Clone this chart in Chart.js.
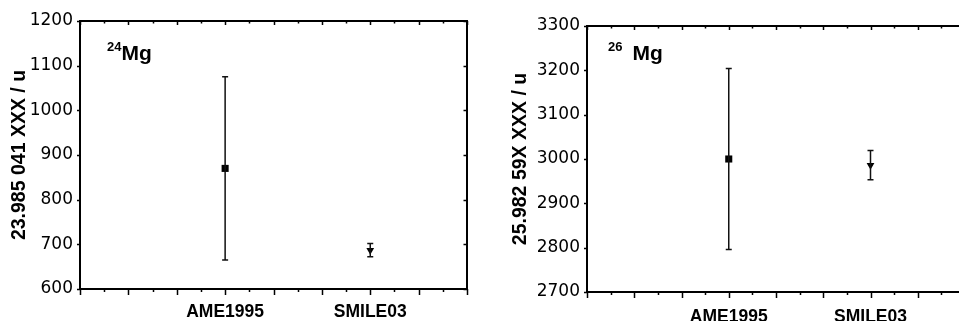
<!DOCTYPE html>
<html>
<head>
<meta charset="utf-8">
<script src="https://cdn.jsdelivr.net/npm/chart.js@4/dist/chart.umd.min.js"></script>
<style>
  html, body { margin: 0; padding: 0; background: #fff; }
  body { width: 959px; height: 321px; overflow: hidden; position: relative; }
  .panel { position: absolute; top: 0; height: 321px; }
  #left { left: 0; width: 480px; }
  #right { left: 480px; width: 500px; }
</style>
</head>
<body>
<div class="panel" id="left"><canvas id="graficoMg24"></canvas></div>
<div class="panel" id="right"><canvas id="graficoMg26"></canvas></div>
<script>
const categorias = ['AME1995', 'SMILE03'];
const posiciones = [3, 6];
const valoresMg24 = [870, 687];
const erroresMg24 = [205, 15];
const valoresMg26 = [3000, 2986];
const erroresMg26 = [204, 33];
const rangoMg24 = [600, 1200];
const rangoMg26 = [2700, 3300];
const rangoX = [0, 8];

const fuente = "'Liberation Sans', Arial, sans-serif";
const fuenteNumeros = "'DejaVu Sans', sans-serif";

// marco, marcas de los ejes, barras de error y etiqueta del isotopo
const pluginMarco = {
    id: 'marco',
    afterDatasetsDraw(chart) {
        const ctx = chart.ctx;
        const ys = chart.scales.y;
        const xs = chart.scales.x;
        const errores = chart.options.plugins.marco.errores;
        const ds = chart.data.datasets[0];
        ctx.save();
        ctx.strokeStyle = '#111';
        ctx.lineWidth = 1.5;
        ds.data.forEach((p, i) => {
            const px = xs.getPixelForValue(p.x);
            const yArriba = ys.getPixelForValue(p.y + errores[i]);
            const yAbajo = ys.getPixelForValue(p.y - errores[i]);
            ctx.beginPath();
            ctx.moveTo(px, yArriba);
            ctx.lineTo(px, yAbajo);
            ctx.moveTo(px - 3, yArriba);
            ctx.lineTo(px + 3, yArriba);
            ctx.moveTo(px - 3, yAbajo);
            ctx.lineTo(px + 3, yAbajo);
            ctx.stroke();
        });
        ctx.restore();
    },
    afterDraw(chart) {
        const ctx = chart.ctx;
        const { left, right, top, bottom } = chart.chartArea;
        const xs = chart.scales.x;
        const ys = chart.scales.y;
        const opts = chart.options.plugins.marco;
        ctx.save();
        ctx.strokeStyle = '#000';
        ctx.lineWidth = 2;
        ctx.strokeRect(left, top, right - left, bottom - top);
        ctx.lineWidth = 1.5;
        ctx.beginPath();
        xs.ticks.forEach(t => {
            const px = Math.round(xs.getPixelForValue(t.value)) + 0.5;
            const mayor = Number.isInteger(t.value);
            ctx.moveTo(px, bottom);
            ctx.lineTo(px, bottom + (mayor ? 6 : 3));
            ctx.moveTo(px, top);
            ctx.lineTo(px, top + (mayor ? 4 : 2.5));
        });
        ys.ticks.forEach(t => {
            const py = Math.round(ys.getPixelForValue(t.value)) + 0.5;
            ctx.moveTo(left, py);
            ctx.lineTo(left - 3, py);
            ctx.moveTo(right, py);
            ctx.lineTo(right - 3.5, py);
        });
        ctx.stroke();

        // etiqueta del isotopo
        ctx.fillStyle = '#000';
        ctx.textBaseline = 'alphabetic';
        ctx.font = 'bold 13px ' + fuente;
        const x0 = left + opts.etiquetaDx;
        const yBase = top + opts.etiquetaDy;
        ctx.fillText(opts.masa, x0, yBase - 9);
        const anchoMasa = ctx.measureText(opts.masa).width;
        ctx.font = 'bold 21px ' + fuente;
        ctx.fillText('Mg', x0 + anchoMasa + opts.separacion, yBase);
        ctx.restore();
    }
};

function crearGrafico(idCanvas, valores, errores, rango, titulo, cfg) {
    const canvas = document.getElementById(idCanvas);
    return new Chart(canvas, {
        type: 'scatter',
        data: {
            datasets: [{
                data: valores.map((v, i) => ({ x: posiciones[i], y: v })),
                pointStyle: ['rect', 'triangle'],
                rotation: [0, 180],
                pointRadius: [5, 4.5],
                pointHoverRadius: [5, 4.5],
                backgroundColor: '#000',
                borderColor: '#000',
                borderWidth: 0,
                showLine: false
            }]
        },
        options: {
            responsive: true,
            maintainAspectRatio: false,
            animation: false,
            events: [],
            layout: {
                padding: { top: cfg.arriba, right: cfg.derecha, left: 0, bottom: 0 }
            },
            scales: {
                x: {
                    type: 'linear',
                    min: rangoX[0],
                    max: rangoX[1],
                    afterFit: s => { s.height = cfg.altoX; },
                    grid: { display: true, drawOnChartArea: false, drawTicks: false },
                    border: { display: false },
                    ticks: {
                        stepSize: 0.5,
                        autoSkip: false,
                        maxRotation: 0,
                        padding: cfg.padX,
                        color: '#000',
                        font: { family: fuente, size: 17.5, weight: 'bold' },
                        callback: v => {
                            const i = posiciones.indexOf(v);
                            return i >= 0 ? categorias[i] : '';
                        }
                    }
                },
                y: {
                    min: rango[0],
                    max: rango[1],
                    afterFit: s => { s.width = cfg.anchoY; },
                    grid: { display: true, drawOnChartArea: false, drawTicks: false },
                    border: { display: false },
                    ticks: {
                        stepSize: 100,
                        padding: 7,
                        color: '#000',
                        font: { family: fuenteNumeros, size: 17 },
                        callback: v => String(v)
                    },
                    title: {
                        display: true,
                        text: titulo,
                        color: '#000',
                        padding: { top: cfg.padTitulo, bottom: 0 },
                        font: { family: fuente, size: 19.5, weight: 'bold' }
                    }
                }
            },
            plugins: {
                legend: { display: false },
                tooltip: { enabled: false },
                marco: {
                    errores: errores,
                    masa: cfg.masa,
                    separacion: cfg.separacion,
                    etiquetaDx: cfg.etiquetaDx,
                    etiquetaDy: cfg.etiquetaDy
                }
            }
        },
        plugins: [pluginMarco]
    });
}

crearGrafico('graficoMg24', valoresMg24, erroresMg24, rangoMg24, '23.985 041 XXX / u', {
    arriba: 21, derecha: 13, altoX: 32, anchoY: 80, padX: 13, padTitulo: 8,
    masa: '24', separacion: 0, etiquetaDx: 27, etiquetaDy: 39
});

crearGrafico('graficoMg26', valoresMg26, erroresMg26, rangoMg26, '25.982 59X XXX / u', {
    arriba: 26, derecha: 9, altoX: 29, anchoY: 107, padX: 15, padTitulo: 29,
    masa: '26', separacion: 10, etiquetaDx: 21, etiquetaDy: 34
});
</script>
</body>
</html>
